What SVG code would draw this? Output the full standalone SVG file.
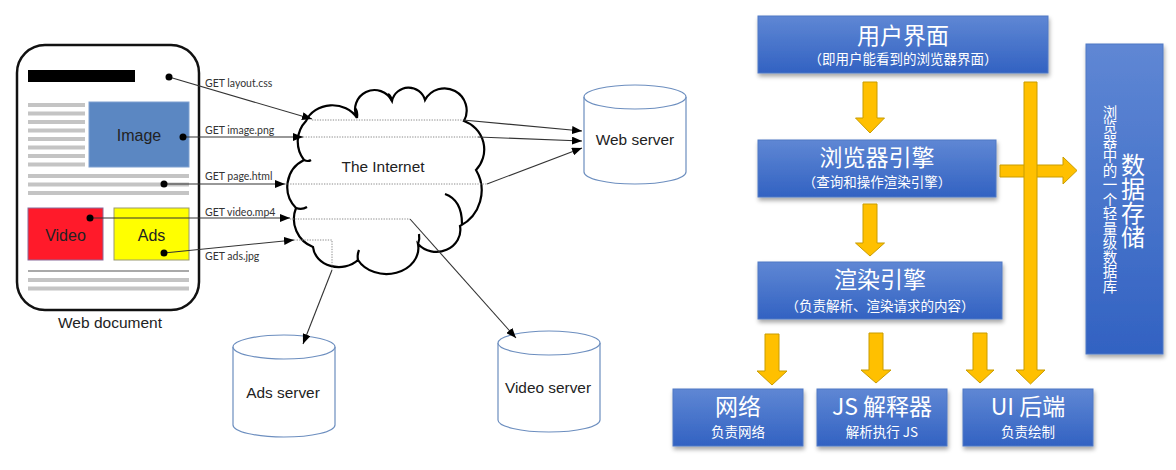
<svg xmlns="http://www.w3.org/2000/svg" width="1176" height="470" viewBox="0 0 1176 470">
<style>
.lbl{font-family:Lato,"Liberation Sans",sans-serif;font-size:10.5px;fill:#333}
.t{font-family:"Liberation Sans",Arial,sans-serif;font-size:15.4px;fill:#222;text-anchor:middle}
.conn{stroke:#333;stroke-width:1.1;fill:none}
.dl{stroke:#8a8a8a;stroke-width:1;stroke-dasharray:1.3 1.3;fill:none}
.db{fill:#fff;stroke:#6c8ebf;stroke-width:1.2}
.gl{fill:#c4c4c4}
.dot{fill:#000}
.box{fill:url(#blue);stroke:#5078c4;stroke-width:1;filter:url(#sh)}
.ttl{font-family:"Noto Sans CJK SC",sans-serif;font-size:23px;fill:#fff;text-anchor:middle}
.sub{font-family:"Noto Sans CJK SC",sans-serif;font-size:13.5px;fill:#fff;text-anchor:middle}
.vt{writing-mode:vertical-rl}
.ya{fill:#FFC000;stroke:#c99c00;stroke-width:1}
</style>
<defs>
<linearGradient id="blue" x1="0" y1="0" x2="0" y2="1">
<stop offset="0" stop-color="#5f87d4"/>
<stop offset="1" stop-color="#3262c2"/>
</linearGradient>
<filter id="sh" x="-10%" y="-10%" width="120%" height="130%">
<feDropShadow dx="1" dy="3" stdDeviation="2" flood-color="#000" flood-opacity="0.35"/>
</filter>
<marker id="ah" viewBox="0 0 10 8" refX="10" refY="4" markerWidth="10" markerHeight="8" markerUnits="userSpaceOnUse" orient="auto">
<path d="M0 0 L10 4 L0 8 Z" fill="#000"/>
</marker>
</defs>

<!-- Web document -->
<g id="web-document">
<rect x="17" y="45" width="182" height="265" rx="28" fill="#fff" stroke="#111" stroke-width="2.5"/>
<rect x="28" y="70" width="107" height="12" fill="#000"/>
<rect class="gl" x="28" y="103" width="57" height="4"/>
<rect class="gl" x="28" y="111.5" width="57" height="4"/>
<rect class="gl" x="28" y="120" width="57" height="4"/>
<rect class="gl" x="28" y="128.5" width="57" height="4"/>
<rect class="gl" x="28" y="137" width="57" height="4"/>
<rect class="gl" x="28" y="145.5" width="57" height="4"/>
<rect class="gl" x="28" y="154" width="57" height="4"/>
<rect class="gl" x="28" y="162.5" width="57" height="4"/>
<rect x="89" y="102" width="100" height="65" fill="#5b87c2" stroke="#7fa0d0" stroke-width="1"/>
<text class="t" x="139" y="141" style="font-size:16px">Image</text>
<rect class="gl" x="28" y="174" width="161" height="4"/>
<rect class="gl" x="28" y="182.5" width="161" height="4"/>
<rect class="gl" x="28" y="191" width="161" height="4"/>
<rect x="28" y="208" width="75" height="52" fill="#ff1a2a" stroke="#8a6a9a" stroke-width="1"/>
<text class="t" x="65.5" y="241" style="font-size:16px">Video</text>
<rect x="114" y="208" width="75" height="52" fill="#ffff00" stroke="#9a9a70" stroke-width="1"/>
<text class="t" x="151.5" y="241" style="font-size:16px">Ads</text>
<line x1="28" y1="271" x2="189" y2="271" stroke="#555" stroke-width="1.2"/>
<rect class="gl" x="28" y="278" width="161" height="4"/>
<rect class="gl" x="28" y="286.5" width="161" height="4"/>
<text class="t" x="110" y="328" style="font-size:15.5px">Web document</text>
</g>

<!-- Cloud -->
<g id="internet">
<path d="M306 121 A28 24 0 0 1 357 118 A19 19 0 0 1 392 101 A17 17 0 0 1 425 100 A22 22 0 0 1 464 121 A30 30 0 0 1 476 170 A40 40 0 0 1 460 226 A24 22 0 0 1 418 244 A32 26 0 0 1 358 260 A26 22 0 0 1 313 247 A30 30 0 0 1 296 208 A30 30 0 0 1 304 160 A30 30 0 0 1 306 121 Z" fill="#fff" stroke="#000" stroke-width="2.2"/>
<path d="M445 194 Q462 200 462 224" fill="none" stroke="#000" stroke-width="2.2"/>
<path d="M357 118 Q358 112 355 108" fill="none" stroke="#000" stroke-width="2.2"/>
<path d="M392 101 Q391 96 388 94" fill="none" stroke="#000" stroke-width="2.2"/>
<path d="M304 160 Q308 162 311 160" fill="none" stroke="#000" stroke-width="2.2"/>
<path d="M296 208 Q302 210 307 207" fill="none" stroke="#000" stroke-width="2.2"/>
<path d="M358 260 Q357 255 359 250" fill="none" stroke="#000" stroke-width="2.2"/>
<path d="M418 244 Q420 239 419 234" fill="none" stroke="#000" stroke-width="2.2"/>
<text class="t" x="383" y="172">The Internet</text>
</g>

<!-- Servers -->
<g id="web-server">
<path class="db" d="M584 97 L584 172 A51 12 0 0 0 686 172 L686 97"/>
<ellipse class="db" cx="635" cy="97" rx="51" ry="12"/>
<text class="t" x="635" y="145">Web server</text>
</g>
<g id="ads-server">
<path class="db" d="M233 347 L233 425 A51 12 0 0 0 335 425 L335 347"/>
<ellipse class="db" cx="284" cy="347" rx="51" ry="12"/>
<text class="t" x="283" y="398">Ads server</text>
</g>
<g id="video-server">
<path class="db" d="M498 343 L498 420 A51 12 0 0 0 600 420 L600 343"/>
<ellipse class="db" cx="549" cy="343" rx="51" ry="12"/>
<text class="t" x="548" y="393">Video server</text>
</g>

<!-- Connectors -->
<g id="connectors">
<line class="conn" x1="169" y1="77" x2="312" y2="119" marker-end="url(#ah)"/>
<line class="dl" x1="312" y1="120" x2="463" y2="120"/>
<line class="conn" x1="463" y1="120" x2="582" y2="131" marker-end="url(#ah)"/>

<line class="conn" x1="183" y1="137" x2="303" y2="137" marker-end="url(#ah)"/>
<line class="dl" x1="303" y1="137" x2="478" y2="137"/>
<line class="conn" x1="478" y1="137" x2="582" y2="141" marker-end="url(#ah)"/>

<line class="conn" x1="164" y1="184" x2="285" y2="184" marker-end="url(#ah)"/>
<line class="dl" x1="285" y1="184" x2="487" y2="184"/>
<line class="conn" x1="487" y1="184" x2="582" y2="148" marker-end="url(#ah)"/>

<line class="conn" x1="90" y1="218" x2="290" y2="218" marker-end="url(#ah)"/>
<line class="dl" x1="290" y1="219" x2="410" y2="219"/>
<line class="conn" x1="410" y1="219" x2="516" y2="338" marker-end="url(#ah)"/>

<line class="conn" x1="164" y1="253" x2="294" y2="240" marker-end="url(#ah)"/>
<polyline class="dl" points="294,240 332,240 332,270"/>
<line class="conn" x1="332" y1="270" x2="303" y2="344" marker-end="url(#ah)"/>

<circle class="dot" cx="169" cy="77" r="3.5"/>
<circle class="dot" cx="183" cy="137" r="3.5"/>
<circle class="dot" cx="164" cy="184" r="3.5"/>
<circle class="dot" cx="90" cy="218" r="3.5"/>
<circle class="dot" cx="164" cy="253" r="3.5"/>

<text class="lbl" x="205" y="87">GET layout.css</text>
<text class="lbl" x="205" y="134">GET image.png</text>
<text class="lbl" x="205" y="180">GET page.html</text>
<text class="lbl" x="205" y="216">GET video.mp4</text>
<text class="lbl" x="205" y="260">GET ads.jpg</text>
</g>

<!-- Right: browser architecture -->
<g id="ui-box">
<rect class="box" x="758" y="16" width="290" height="57"/>
<text class="ttl" x="903" y="44">用户界面</text>
<text class="sub" x="903" y="64">（即用户能看到的浏览器界面）</text>
</g>
<g id="engine-box">
<rect class="box" x="758" y="140" width="238" height="57"/>
<text class="ttl" x="877" y="166">浏览器引擎</text>
<text class="sub" x="877" y="187">（查询和操作渲染引擎）</text>
</g>
<g id="render-box">
<rect class="box" x="758" y="262" width="244" height="57"/>
<text class="ttl" x="880" y="288">渲染引擎</text>
<text class="sub" x="880" y="311">（负责解析、渲染请求的内容）</text>
</g>
<g id="net-box">
<rect class="box" x="673" y="389" width="130" height="57"/>
<text class="ttl" x="738" y="415">网络</text>
<text class="sub" x="738" y="437">负责网络</text>
</g>
<g id="js-box">
<rect class="box" x="817" y="389" width="130" height="57"/>
<text class="ttl" x="882" y="415">JS 解释器</text>
<text class="sub" x="882" y="437">解析执行 JS</text>
</g>
<g id="uib-box">
<rect class="box" x="963" y="389" width="130" height="57"/>
<text class="ttl" x="1028" y="415">UI 后端</text>
<text class="sub" x="1028" y="437">负责绘制</text>
</g>
<g id="storage-box">
<rect class="box" x="1086" y="44" width="77" height="310"/>
<text class="ttl vt" x="1133" y="201" style="font-size:24px">数据存储</text>
<text class="sub vt" x="1110" y="199" style="font-size:14.5px">浏览器中的一个轻量级数据库</text>
</g>

<g id="yellow-arrows">
<polygon class="ya" points="1000,165 1063,165 1063,157 1077,170.5 1063,184 1063,177 1000,177"/>
<polygon class="ya" points="1024,82 1037,82 1037,370 1045,370 1030.5,384 1016,370 1024,370"/>
<polygon class="ya" points="863,82 877,82 877,118 884.5,118 870,133 855.5,118 863,118"/>
<polygon class="ya" points="863,204 877,204 877,243 884.5,243 870,256 855.5,243 863,243"/>
<polygon class="ya" points="765,334 779,334 779,371 787,371 772,385 757,371 765,371"/>
<polygon class="ya" points="869,333 883,333 883,370 891,370 876,383 861,370 869,370"/>
<polygon class="ya" points="973,333 987,333 987,370 994,370 980,383 966,370 973,370"/>
</g>
</svg>
